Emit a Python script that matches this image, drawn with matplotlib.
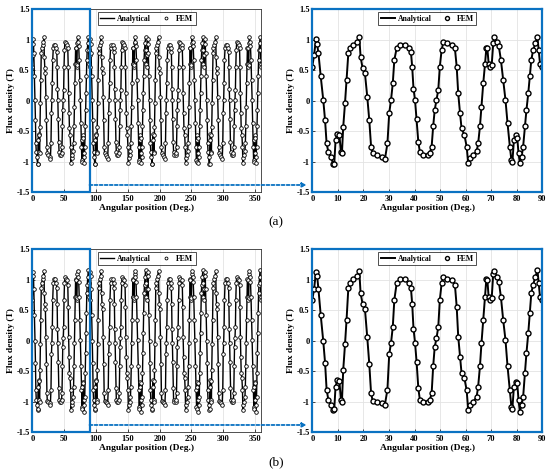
import matplotlib
matplotlib.use("Agg")
import matplotlib.pyplot as plt
import numpy as np
from matplotlib.patches import Rectangle, ConnectionPatch
from matplotlib.ticker import FuncFormatter

# one period (0-90 deg) of the air-gap flux density
angle_deg = [
    0, 0.7, 1.45, 1.9, 2.4, 3.3, 4.3, 5.0, 5.6, 6.3, 7.3, 8.2, 8.6, 9.1, 9.8,
    10.6, 11.2, 11.6, 12.1, 12.8, 13.4, 14.1, 14.8, 16.1, 17.4, 18.4, 18.9, 19.7,
    20.6, 21.5, 22.3, 23.0, 23.6, 25.2, 27.1, 28.4, 29.4, 30.1,
    30.8, 31.5, 32.1, 33.0, 34.3, 36.3, 37.8, 38.6, 39.1, 39.6, 40.2, 40.8, 41.5,
    42.1, 43.4, 45.4, 46.0, 46.7, 47.3, 47.9, 48.6, 49.3, 49.9, 50.6, 51.3, 52.6,
    54.6, 55.8, 56.5, 57.1, 57.8, 58.4, 59.5, 60.4, 61.0, 61.7, 63.0, 64.3, 64.9,
    65.6, 66.2, 66.9, 67.6, 68.1, 68.5, 69.0, 69.7, 70.2, 70.8, 71.2, 72.1, 73.0,
    73.8, 74.7, 75.6, 76.4, 77.3, 77.9, 78.3, 78.9, 79.6, 80.2, 80.7, 81.2, 81.9,
    82.5, 83.2, 83.8, 84.5, 85.1, 85.7, 86.4, 87.3, 88.1, 88.6, 89.1,
]

flux_a = [
    0.56, 0.75, 1.01, 0.93, 0.78, 0.40, 0.01, -0.32, -0.70, -0.84, -0.92, -1.04, -1.03, -0.65, -0.55,
    -0.56, -0.84, -0.86, -0.43, -0.04, 0.34, 0.78, 0.86, 0.91, 0.97, 1.04, 0.72, 0.53,
    0.45, 0.07, -0.32, -0.75, -0.86, -0.89, -0.92, -0.96, -0.70, -0.20,
    0.01, 0.29, 0.67, 0.86, 0.92, 0.92, 0.86, 0.80, 0.55, 0.20, 0.01, -0.30, -0.68,
    -0.84, -0.89, -0.89, -0.86, -0.75, -0.42, -0.15, 0.01, 0.18, 0.56, 0.83, 0.97, 0.94,
    0.92, 0.86, 0.56, 0.12, -0.20, -0.45, -0.56, -0.75, -1.02, -0.94, -0.89, -0.83, -0.70,
    -0.42, -0.10, 0.29, 0.61, 0.86, 0.86, 0.61, 0.56, 0.59, 0.94, 1.04, 0.97, 0.89,
    0.67, 0.34, 0.01, -0.37, -0.75, -0.97, -1.00, -0.64, -0.56, -0.61, -0.86, -1.02, -0.92,
    -0.75, -0.42, -0.15, 0.12, 0.40, 0.67, 0.83, 0.94, 1.04, 0.83, 0.61,
]

flux_b = [
    0.67, 0.85, 1.13, 1.06, 0.85, 0.42, -0.01, -0.36, -0.80, -0.97, -1.05, -1.13, -1.12, -0.75, -0.65,
    -0.66, -0.97, -1.00, -0.48, -0.06, 0.34, 0.86, 0.95, 1.01, 1.06, 1.14, 0.78, 0.60,
    0.52, 0.06, -0.38, -0.86, -0.98, -1.01, -1.02, -1.05, -0.80, -0.22,
    -0.04, 0.23, 0.67, 0.94, 1.01, 1.01, 0.94, 0.86, 0.60, 0.20, -0.03, -0.34, -0.78,
    -0.97, -1.01, -1.01, -0.97, -0.86, -0.42, -0.10, 0.04, 0.23, 0.67, 0.94, 1.05, 1.02,
    1.00, 0.92, 0.56, 0.07, -0.26, -0.53, -0.61, -0.81, -1.13, -1.05, -1.00, -0.92, -0.75,
    -0.42, -0.04, 0.34, 0.72, 1.01, 1.00, 0.72, 0.67, 0.70, 1.10, 1.15, 1.05, 0.97,
    0.72, 0.34, 0.01, -0.42, -0.81, -1.08, -1.11, -0.75, -0.67, -0.70, -0.97, -1.16, -1.05,
    -0.92, -0.53, -0.20, 0.12, 0.45, 0.78, 0.92, 1.05, 1.16, 0.94, 0.72,
]

period = 90
n_periods = 4
x_ticks_full = [0, 50, 100, 150, 200, 250, 300, 350]
x_ticks_zoom = [0, 10, 20, 30, 40, 50, 60, 70, 80, 90]
y_ticks = [-1.5, -1, -0.5, 0, 0.5, 1, 1.5]

BLUE = "#0a72c2"
SERIF = ["Liberation Serif", "DejaVu Serif"]

plt.rcParams["font.family"] = SERIF
plt.rcParams["font.weight"] = "bold"
plt.rcParams["axes.unicode_minus"] = False


def _tile(values):
    # the waveform repeats every 90 deg, so the full turn is the period laid end to end
    x = np.concatenate([np.asarray(angle_deg) + k * period for k in range(n_periods)] + [[360.0]])
    y = np.concatenate([np.asarray(values)] * n_periods + [[values[0]]])
    return x, y


def _style(ax, xlim, xticks):
    ax.set_xlim(*xlim)
    ax.set_ylim(-1.5, 1.5)
    ax.set_xticks(xticks)
    ax.set_yticks(y_ticks)
    ax.yaxis.set_major_formatter(FuncFormatter(lambda v, p: f"{v:g}"))
    ax.grid(True, color="#e3e3e3", lw=0.6)
    ax.set_axisbelow(True)
    ax.tick_params(direction="in", labelsize=6, length=2.5, width=0.5, pad=2)
    for lab in ax.get_xticklabels() + ax.get_yticklabels():
        lab.set_fontweight("bold")
    ax.set_xlabel("Angular position (Deg.)", fontsize=6.8, fontweight="bold", labelpad=1)
    ax.set_ylabel("Flux density (T)", fontsize=6.8, fontweight="bold", labelpad=1)
    for s in ax.spines.values():
        s.set_linewidth(0.6)
        s.set_color("#333333")


def _legend(ax):
    leg = ax.legend(loc="upper center", bbox_to_anchor=(0.5, 1.0), ncol=2, fontsize=5.6,
                    frameon=True, fancybox=False, edgecolor="black", borderpad=0.3,
                    handlelength=1.8, handletextpad=0.4, columnspacing=1.0,
                    borderaxespad=0.4, markerscale=0.8)
    leg.get_frame().set_linewidth(0.6)
    for t in leg.get_texts():
        t.set_fontweight("bold")


def plot_row(fig, values, bottom, label):
    x, y = _tile(values)
    h = 0.3845
    ax_l = fig.add_axes([0.0587, bottom, 0.4164, h])
    ax_r = fig.add_axes([0.5678, bottom, 0.4182, h])

    ax_l.plot(x, y, color="black", lw=1.0, label="Analytical")
    ax_l.plot(x, y, ls="none", marker="o", ms=2.6, mfc="white", mec="black", mew=0.6,
              label="FEM")
    _style(ax_l, (0, 360), x_ticks_full)
    _legend(ax_l)

    ax_r.plot(x, y, color="black", lw=1.4, label="Analytical")
    ax_r.plot(x, y, ls="none", marker="o", ms=3.6, mfc="white", mec="black", mew=1.0,
              label="FEM")
    _style(ax_r, (0, 90), x_ticks_zoom)
    _legend(ax_r)
    for s in ax_r.spines.values():
        s.set_color(BLUE)
        s.set_linewidth(1.6)

    ax_l.add_patch(Rectangle((0, -1.5), 90, 3.0, fill=False, ec=BLUE, lw=1.6,
                             clip_on=False, zorder=5))
    arrow = ConnectionPatch(xyA=(90, -1.38), coordsA=ax_l.transData,
                            xyB=(-2.2, -1.38), coordsB=ax_r.transData,
                            arrowstyle="-|>", color=BLUE, lw=1.3,
                            linestyle=(0, (1.6, 1.2)), mutation_scale=6)
    fig.add_artist(arrow)

    fig.text(0.502, bottom - 0.062, label, ha="center", va="center",
             fontsize=9.5, fontweight="normal")
    return ax_l, ax_r


fig = plt.figure(figsize=(5.5, 4.76), dpi=100)
plot_row(fig, flux_a, 0.596, "(a)")
plot_row(fig, flux_b, 0.0918, "(b)")
fig.savefig("out.png", dpi=100)
